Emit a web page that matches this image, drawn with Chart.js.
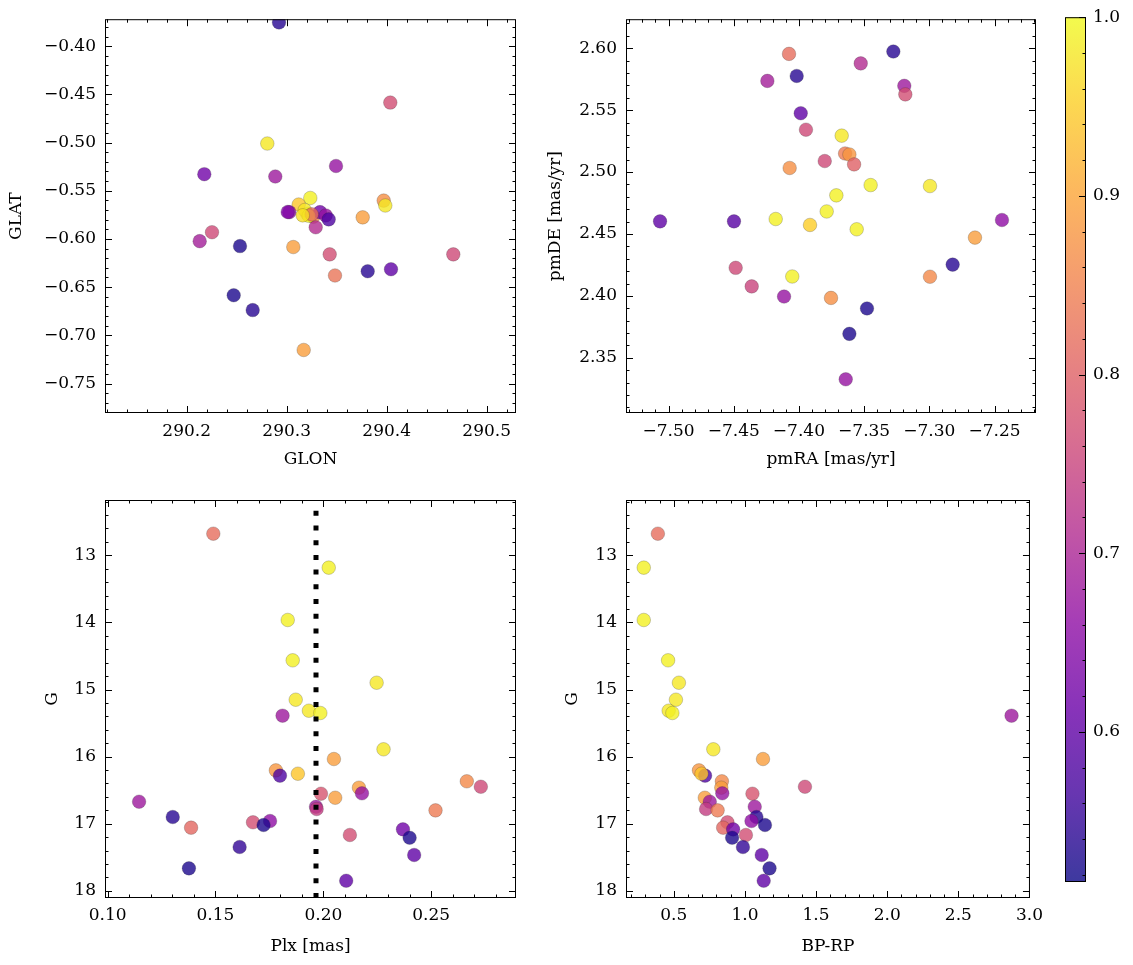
<!DOCTYPE html>
<html>
<head>
<meta charset="utf-8">
<script src="https://cdn.jsdelivr.net/npm/chart.js@4.4.0/dist/chart.umd.min.js"></script>
<style>
  body { margin: 0; background: #fff; width: 1133px; height: 965px; position: relative; overflow: hidden; }
  .box { position: absolute; }
</style>
</head>
<body>
<div class="box" style="left:0;top:0;width:530px;height:480px"><canvas id="posChart"></canvas></div>
<div class="box" style="left:530px;top:0;width:520px;height:480px"><canvas id="pmChart"></canvas></div>
<div class="box" style="left:0;top:480px;width:530px;height:485px"><canvas id="plxChart"></canvas></div>
<div class="box" style="left:530px;top:480px;width:520px;height:485px"><canvas id="cmdChart"></canvas></div>
<div class="box" style="left:1050px;top:0;width:83px;height:965px"><canvas id="cbar"></canvas></div>
<script>
// galactic positions
const glon = [290.2923, 290.4036, 290.2806, 290.2176, 290.2886, 290.3493, 290.3236, 290.3120, 290.3206, 290.3180, 290.3026, 290.3010, 290.3266, 290.3333, 290.3390, 290.3420, 290.3290, 290.3760, 290.3970, 290.3986, 290.2253, 290.2130, 290.2533, 290.3066, 290.3430, 290.4666, 290.3810, 290.4043, 290.3483, 290.2470, 290.2660, 290.3170, 290.3220, 290.3250, 290.3160];
const glat = [-0.3754, -0.4585, -0.5010, -0.5328, -0.5352, -0.5243, -0.5575, -0.5643, -0.5739, -0.5700, -0.5722, -0.5720, -0.5770, -0.5722, -0.5756, -0.5797, -0.5879, -0.5776, -0.5602, -0.5653, -0.5930, -0.6023, -0.6074, -0.6084, -0.6160, -0.6160, -0.6335, -0.6314, -0.6379, -0.6584, -0.6738, -0.7152, -0.5760, -0.5745, -0.5755];
const probPos = [0.54, 0.77, 0.98, 0.62, 0.68, 0.67, 0.99, 0.94, 0.99, 0.98, 0.66, 0.64, 0.85, 0.62, 0.67, 0.58, 0.71, 0.89, 0.87, 0.98, 0.76, 0.69, 0.53, 0.89, 0.77, 0.76, 0.54, 0.60, 0.83, 0.53, 0.54, 0.89, 0.99, 0.82, 0.97];

// proper motions
const pmra = [-7.5065, -7.4498, -7.4076, -7.4017, -7.4242, -7.3276, -7.3526, -7.3192, -7.3184, -7.3986, -7.3946, -7.3672, -7.3646, -7.3613, -7.3577, -7.3802, -7.4071, -7.3450, -7.2995, -7.3713, -7.3787, -7.4178, -7.3915, -7.3557, -7.2443, -7.2650, -7.2821, -7.4485, -7.4362, -7.4051, -7.4114, -7.3754, -7.2995, -7.3478, -7.3613, -7.3641];
const pmde = [2.4602, 2.4602, 2.5954, 2.5776, 2.5736, 2.5973, 2.5877, 2.5696, 2.5627, 2.5475, 2.5342, 2.5294, 2.5150, 2.5142, 2.5062, 2.5089, 2.5033, 2.4895, 2.4887, 2.4812, 2.4682, 2.4621, 2.4573, 2.4538, 2.4613, 2.4471, 2.4253, 2.4227, 2.4077, 2.4157, 2.3995, 2.3984, 2.4155, 2.3899, 2.3694, 2.3327];
const probPm = [0.60, 0.59, 0.82, 0.54, 0.69, 0.54, 0.71, 0.68, 0.77, 0.60, 0.76, 0.98, 0.84, 0.88, 0.80, 0.76, 0.87, 0.99, 0.98, 0.99, 0.99, 0.99, 0.95, 0.99, 0.66, 0.89, 0.54, 0.76, 0.75, 0.99, 0.67, 0.87, 0.86, 0.53, 0.53, 0.67];

// parallax / photometry
const plx = [0.1490, 0.2025, 0.1835, 0.1858, 0.2247, 0.1872, 0.1933, 0.1986, 0.1811, 0.2279, 0.2049, 0.1780, 0.1799, 0.1882, 0.2665, 0.2730, 0.2165, 0.2179, 0.1989, 0.2055, 0.1146, 0.1966, 0.1969, 0.2520, 0.1302, 0.1674, 0.1753, 0.1723, 0.1387, 0.2369, 0.2400, 0.2123, 0.1612, 0.2421, 0.1377, 0.2106];
const gmag = [12.678, 13.184, 13.964, 14.565, 14.899, 15.152, 15.316, 15.350, 15.390, 15.891, 16.036, 16.205, 16.284, 16.255, 16.368, 16.449, 16.463, 16.547, 16.553, 16.613, 16.672, 16.747, 16.781, 16.801, 16.900, 16.979, 16.960, 17.019, 17.059, 17.084, 17.209, 17.168, 17.347, 17.466, 17.665, 17.850];
const bprp = [0.388, 0.289, 0.289, 0.460, 0.536, 0.515, 0.464, 0.490, 2.874, 0.778, 1.127, 0.677, 0.720, 0.695, 0.838, 1.422, 0.834, 0.841, 1.053, 0.718, 0.753, 1.069, 0.727, 0.808, 1.081, 0.877, 1.046, 1.141, 0.847, 0.917, 0.910, 1.007, 0.986, 1.118, 1.173, 1.132];
const probPhot = [0.82, 0.99, 0.99, 0.99, 0.98, 0.98, 0.98, 0.99, 0.68, 0.98, 0.89, 0.88, 0.58, 0.94, 0.86, 0.76, 0.89, 0.67, 0.78, 0.89, 0.68, 0.68, 0.74, 0.84, 0.54, 0.77, 0.66, 0.53, 0.81, 0.62, 0.53, 0.77, 0.55, 0.60, 0.53, 0.60];
const plxCut = 0.1966;

// tick labels
const glonTicks = [290.2, 290.3, 290.4, 290.5];
const glatTicks = [-0.40, -0.45, -0.50, -0.55, -0.60, -0.65, -0.70, -0.75];
const pmraTicks = [-7.50, -7.45, -7.40, -7.35, -7.30, -7.25];
const pmdeTicks = [2.35, 2.40, 2.45, 2.50, 2.55, 2.60];
const plxTicks = [0.10, 0.15, 0.20, 0.25];
const gTicks = [13, 14, 15, 16, 17, 18];
const bprpTicks = [0.5, 1.0, 1.5, 2.0, 2.5, 3.0];
const probTicks = [0.6, 0.7, 0.8, 0.9, 1.0];
const pMin = 0.516, pMax = 1.0;

const plasma = ['#0d0887', '#41049d', '#6a00a8', '#8f0da4', '#b12a90', '#cc4778', '#e16462', '#f2844b', '#fca636', '#fcce25', '#f0f921'];
const ALPHA = 0.8;

function hexRgb(h) {
  return [1, 3, 5].map(i => parseInt(h.substr(i, 2), 16));
}
function plasmaColor(t, a) {
  t = Math.max(0, Math.min(1, t)) * (plasma.length - 1);
  const i = Math.min(Math.floor(t), plasma.length - 2), f = t - i;
  const c0 = hexRgb(plasma[i]), c1 = hexRgb(plasma[i + 1]);
  const c = c0.map((v, k) => Math.round(v + (c1[k] - v) * f));
  return `rgba(${c[0]},${c[1]},${c[2]},${a})`;
}
const toColor = p => plasmaColor((p - pMin) / (pMax - pMin), ALPHA);
const fmt = (v, d) => v.toFixed(d).replace('-', '\u2212');

Chart.defaults.font.family = 'DejaVu Serif';
Chart.defaults.font.size = 17;
Chart.defaults.color = '#000';

// inward ticks on the frame, matplotlib style
const inTicks = {
  id: 'inTicks',
  afterDraw(chart, args, o) {
    const {ctx, chartArea: a} = chart;
    ctx.save();
    ctx.strokeStyle = '#000';
    ctx.lineWidth = 1;
    ctx.strokeRect(a.left + 0.5, a.top + 0.5, a.width - 1, a.height - 1);
    ['x', 'y'].forEach(id => {
      const s = chart.scales[id];
      if (!o[id] || !s || !s.options.display) return;
      const majors = s.ticks.map(t => t.value);
      const lo = Math.min(s.min, s.max), hi = Math.max(s.min, s.max);
      const step = o[id];
      const marks = majors.map(v => [v, 7]);
      for (let k = Math.ceil(lo / step - 1e-9); k * step <= hi + 1e-9; k++) {
        const v = k * step;
        if (!majors.some(m => Math.abs(m - v) < step / 10)) marks.push([v, 3.5]);
      }
      marks.forEach(([v, len]) => {
        const p = Math.round(s.getPixelForValue(v)) + 0.5;
        ctx.beginPath();
        if (id === 'x') {
          ctx.moveTo(p, a.bottom); ctx.lineTo(p, a.bottom - len);
          ctx.moveTo(p, a.top); ctx.lineTo(p, a.top + len);
        } else {
          if (o.sides !== 'right') { ctx.moveTo(a.left, p); ctx.lineTo(a.left + len, p); }
          ctx.moveTo(a.right, p); ctx.lineTo(a.right - len, p);
        }
        ctx.stroke();
      });
    });
    ctx.restore();
  }
};

function axis(opt) {
  return {
    type: 'linear',
    position: opt.position,
    min: opt.min,
    max: opt.max,
    reverse: !!opt.reverse,
    display: opt.display !== false,
    grid: { display: false, drawTicks: false },
    border: { display: false },
    ticks: {
      padding: opt.tickPad,
      autoSkip: false,
      maxRotation: 0,
      callback: v => fmt(v, opt.digits)
    },
    afterBuildTicks: s => { s.ticks = opt.ticks.map(v => ({value: v})); },
    afterFit: s => {
      if (opt.width !== undefined) s.width = opt.width;
      if (opt.height !== undefined) s.height = opt.height;
    },
    title: {
      display: !!opt.title,
      text: opt.title,
      padding: opt.titlePad
    }
  };
}

function points(xs, ys, ps) {
  return {
    data: xs.map((x, i) => ({x: x, y: ys[i]})),
    backgroundColor: ps.map(toColor),
    borderColor: 'rgba(40,40,40,0.45)',
    borderWidth: 0.5,
    pointRadius: 6.8,
    pointHoverRadius: 6.8,
    clip: 0
  };
}

function scatter(id, datasets, pad, x, y) {
  return new Chart(document.getElementById(id), {
    type: 'scatter',
    data: { datasets: datasets },
    options: {
      responsive: true,
      maintainAspectRatio: false,
      animation: false,
      events: [],
      layout: { padding: pad },
      plugins: {
        legend: { display: false },
        tooltip: { enabled: false },
        inTicks: { x: x.minor, y: y.minor }
      },
      scales: { x: axis(x), y: axis(y) }
    },
    plugins: [inTicks]
  });
}

scatter('posChart', [points(glon, glat, probPos)],
  { top: 15, right: 14, left: 0, bottom: 0 },
  { position: 'bottom', min: 290.1183, max: 290.5293, ticks: glonTicks, digits: 1, minor: 0.02,
    height: 67, tickPad: 8, title: 'GLON', titlePad: { top: 0, bottom: 10 } },
  { position: 'left', min: -0.7806, max: -0.3720, ticks: glatTicks, digits: 2, minor: 0.01,
    width: 105, tickPad: 9, title: 'GLAT', titlePad: { top: 6, bottom: 0 } });

scatter('pmChart', [points(pmra, pmde, probPm)],
  { top: 15, right: 14, left: 0, bottom: 0 },
  { position: 'bottom', min: -7.5326, max: -7.2182, ticks: pmraTicks, digits: 2, minor: 0.01,
    height: 67, tickPad: 8, title: 'pmRA [mas/yr]', titlePad: { top: 0, bottom: 10 } },
  { position: 'left', min: 2.3055, max: 2.6234, ticks: pmdeTicks, digits: 2, minor: 0.01,
    width: 96, tickPad: 9, title: 'pmDE [mas/yr]', titlePad: { top: 15, bottom: 0 } });

const cutLine = {
  type: 'line',
  data: [{x: plxCut, y: 18.107}, {x: plxCut, y: 12.176}],
  borderColor: '#000',
  borderWidth: 5,
  borderDash: [5, 9.7],
  borderCapStyle: 'butt',
  pointRadius: 0,
  fill: false,
  clip: 0,
  order: -1
};

scatter('plxChart', [points(plx, gmag, probPhot), cutLine],
  { top: 20, right: 14, left: 0, bottom: 0 },
  { position: 'bottom', min: 0.0988, max: 0.2893, ticks: plxTicks, digits: 2, minor: 0.01,
    height: 67, tickPad: 7, title: 'Plx [mas]', titlePad: { top: 0, bottom: 8 } },
  { position: 'left', min: 12.176, max: 18.107, reverse: true, ticks: gTicks, digits: 0, minor: 0.2,
    width: 105, tickPad: 9, title: 'G', titlePad: { top: 42, bottom: 0 } });

scatter('cmdChart', [points(bprp, gmag, probPhot)],
  { top: 20, right: 14, left: 0, bottom: 0 },
  { position: 'bottom', min: 0.1641, max: 3.0035, ticks: bprpTicks, digits: 1, minor: 0.1,
    height: 67, tickPad: 7, title: 'BP-RP', titlePad: { top: 0, bottom: 8 } },
  { position: 'left', min: 12.176, max: 18.107, reverse: true, ticks: gTicks, digits: 0, minor: 0.2,
    width: 96, tickPad: 9, title: 'G', titlePad: { top: 32, bottom: 0 } });

// colorbar
const colorbarFill = {
  id: 'colorbarFill',
  beforeDraw(chart) {
    const {ctx, chartArea: a, scales: {y}} = chart;
    const g = ctx.createLinearGradient(0, y.getPixelForValue(pMin), 0, y.getPixelForValue(pMax));
    plasma.forEach((c, i) => g.addColorStop(i / (plasma.length - 1), plasmaColor(i / (plasma.length - 1), ALPHA)));
    ctx.save();
    ctx.fillStyle = g;
    ctx.fillRect(a.left, a.top, a.width, a.height);
    ctx.restore();
  }
};

new Chart(document.getElementById('cbar'), {
  type: 'scatter',
  data: { datasets: [] },
  options: {
    responsive: true,
    maintainAspectRatio: false,
    animation: false,
    events: [],
    layout: { padding: { top: 15, left: 15, right: 0, bottom: 83 } },
    plugins: {
      legend: { display: false },
      tooltip: { enabled: false },
      inTicks: { y: 0.02, sides: 'right' }
    },
    scales: {
      x: { display: false, min: 0, max: 1 },
      y: axis({ position: 'right', min: pMin, max: pMax, ticks: probTicks, digits: 1, width: 47, tickPad: 7 })
    }
  },
  plugins: [colorbarFill, inTicks]
});
</script>
</body>
</html>
